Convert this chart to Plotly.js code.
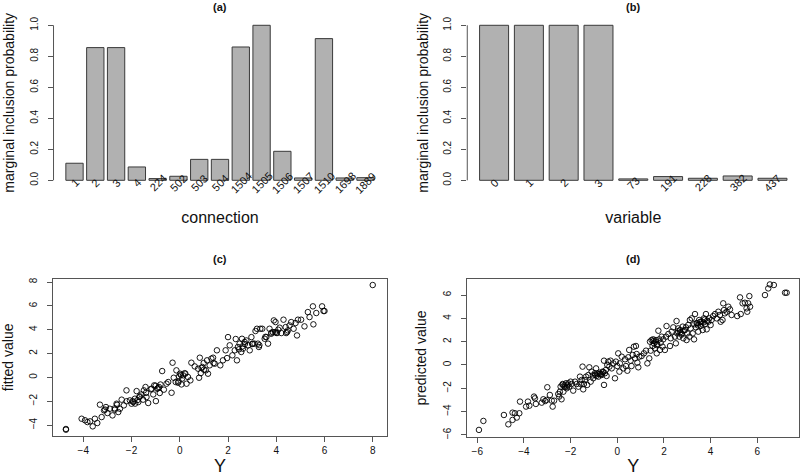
<!DOCTYPE html>
<html><head><meta charset="utf-8">
<script src="https://cdn.plot.ly/plotly-3.0.1.min.js"></script>
<style>html,body{margin:0;padding:0;background:#fff}#chart{width:800px;height:476px}</style>
</head><body><div id="chart"></div>
<script>
// Panel (a): connections
const connLabels = ["1","2","3","4","224","502","503","504","1504","1505","1506","1507","1510","1698","1889"];
const connProb   = [0.11,0.856,0.856,0.086,0.011,0.026,0.135,0.135,0.86,1.0,0.187,0.015,0.914,0.015,0.017];
// Panel (b): variables
const varLabels = ["0","1","2","3","73","191","228","382","437"];
const varProb   = [1.0,1.0,1.0,1.0,0.009,0.024,0.013,0.028,0.013];
// Panel (c): Y vs fitted value
const cY = [-4.72,-4.72,-4.07,-3.93,-3.83,-3.72,-3.61,-3.52,-3.42,-3.31,-3.24,-3.14,-3.06,-3.0,-2.9,-2.79,-2.69,-2.62,-2.55,-2.48,-2.41,-2.32,-2.21,-2.07,-2.0,-1.93,-1.86,-1.79,-1.72,-1.68,-1.59,-1.52,-1.49,-1.42,-1.38,-1.31,-1.17,-1.1,-1.06,-0.99,-0.94,-0.86,-0.83,-0.73,-0.66,-0.55,-0.48,-0.34,-0.3,-0.25,-0.17,-0.14,-0.07,-0.03,0.01,0.07,0.14,0.23,0.28,0.34,0.44,0.48,0.62,0.76,0.8,0.83,0.87,0.94,0.99,1.08,1.13,1.17,1.24,1.31,1.38,1.45,1.54,1.68,1.79,1.9,1.96,2.0,2.07,2.18,2.28,2.32,2.37,2.41,2.48,2.55,2.58,2.62,2.69,2.76,2.83,2.9,2.97,3.03,3.1,3.14,3.2,3.24,3.28,3.34,3.42,3.52,3.59,3.66,3.72,3.79,3.86,3.9,3.97,4.03,4.08,4.14,4.21,4.3,4.39,4.41,4.48,4.55,4.62,4.72,4.8,4.86,4.9,5.03,5.17,5.31,5.38,5.52,5.54,5.66,5.9,5.96,6.0,8.0,
  -1.95,-1.85,-1.75,-1.65,-1.0,-0.9,-1.2,0.05,0.1,-0.05,0.2,2.6,2.7,2.45,3.0,3.3,3.8,3.95,4.45,-2.7,-2.6,-3.1,-2.2,-1.4,-0.8,1.0,1.4,0.9,3.55,4.0];
const cFit = [-4.39,-4.33,-3.47,-3.6,-3.75,-3.69,-4.11,-3.47,-3.83,-2.29,-3.33,-2.77,-2.49,-2.99,-2.63,-3.19,-2.71,-2.21,-2.91,-2.63,-1.87,-2.35,-1.09,-1.93,-2.21,-2.07,-1.79,-1.15,-2.07,-1.65,-1.43,-1.87,-1.09,-0.81,-1.65,-2.15,-0.95,-1.43,-0.67,-1.99,-0.95,-0.81,-1.31,0.53,-1.03,-0.53,-0.39,-1.29,1.23,-0.03,-0.39,0.59,-0.45,0.08,0.31,-0.59,0.17,0.31,-0.53,0.03,-0.25,1.23,0.92,0.73,-0.03,1.65,0.36,0.87,1.2,0.59,1.43,0.31,1.01,1.57,1.65,1.15,2.27,1.01,1.43,2.27,1.62,3.38,2.69,1.85,2.27,3.22,1.43,2.55,2.83,2.13,3.24,2.41,2.97,3.1,2.69,2.27,3.38,2.83,2.83,3.89,4.08,2.83,2.55,4.08,4.08,3.24,3.38,2.83,4.08,3.66,3.8,4.78,4.64,3.72,4.0,4.17,3.72,4.84,4.22,3.72,3.94,4.36,4.64,4.08,4.56,3.52,4.84,4.84,4.28,5.48,5.06,5.96,4.45,5.4,5.96,5.57,5.57,7.75,
  -2.0,-2.2,-1.9,-1.6,-0.7,-0.9,-1.0,0.2,-0.1,-0.35,0.35,2.6,2.8,2.35,2.8,2.7,3.75,3.8,3.8,-2.6,-2.3,-2.7,-2.0,-1.3,-0.6,0.65,1.2,0.8,3.4,3.75];
// Panel (d): Y vs predicted value
const dY = [-5.93,-5.74,-4.86,-4.67,-4.49,-4.49,-4.39,-4.31,-4.2,-4.17,-3.91,-3.83,-3.77,-3.57,-3.53,-3.49,-3.24,-3.17,-3.09,-3.03,-3.0,-2.89,-2.81,-2.77,-2.71,-2.53,-2.49,-2.46,-2.43,-2.39,-2.34,-2.31,-2.27,-2.2,-2.17,-2.13,-2.1,-2.06,-2.0,-1.96,-1.89,-1.81,-1.74,-1.67,-1.6,-1.57,-1.53,-1.49,-1.46,-1.43,-1.39,-1.34,-1.29,-1.24,-1.2,-1.14,-1.1,-1.03,-0.96,-0.91,-0.89,-0.81,-0.77,-0.74,-0.67,-0.63,-0.57,-0.57,-0.53,-0.49,-0.46,-0.43,-0.39,-0.34,-0.29,-0.24,-0.17,-0.1,-0.06,0.0,0.04,0.09,0.11,0.19,0.26,0.33,0.37,0.43,0.47,0.51,0.57,0.61,0.66,0.71,0.76,0.8,0.83,0.86,0.9,0.94,1.04,1.14,1.23,1.29,1.37,1.4,1.43,1.47,1.51,1.54,1.57,1.61,1.66,1.69,1.71,1.76,1.8,1.83,1.86,1.9,1.94,1.97,2.04,2.09,2.11,2.19,2.26,2.29,2.33,2.4,2.47,2.51,2.54,2.57,2.61,2.66,2.69,2.76,2.8,2.83,2.9,2.94,2.97,3.0,3.04,3.09,3.11,3.14,3.19,3.23,3.29,3.33,3.37,3.43,3.47,3.51,3.57,3.61,3.66,3.71,3.76,3.8,3.83,3.9,3.94,4.0,4.04,4.11,4.19,4.26,4.33,4.4,4.43,4.51,4.54,4.57,4.61,4.69,4.76,4.83,4.9,5.14,5.26,5.29,5.37,5.47,5.54,5.57,5.61,5.66,5.69,6.33,6.47,6.54,6.71,7.19,7.26,
  3.4,3.55,3.7,3.85,3.3,3.6,3.75,3.45,2.7,2.85,2.6,2.75,-0.85,-0.7,-0.95,-1.05,-0.6,-2.25,-2.35,-2.15,1.65,1.7,1.55];
const dPred = [-5.57,-4.8,-4.29,-5.09,-4.09,-4.71,-4.14,-4.51,-4.14,-3.14,-3.57,-3.14,-3.49,-2.71,-2.86,-3.34,-3.23,-2.94,-3.09,-3.0,-1.91,-2.57,-3.06,-3.57,-3.06,-2.49,-2.71,-2.29,-1.86,-2.94,-1.63,-2.29,-1.77,-1.57,-2.0,-1.71,-1.57,-1.86,-1.43,-1.63,-2.2,-1.43,-1.63,-1.86,-1.0,-1.63,-1.29,-0.14,-2.09,-1.63,-1.29,-1.0,-1.71,-0.86,-0.2,-1.43,-0.57,-1.14,-0.71,-0.29,-0.94,-1.0,-0.66,-0.77,-0.86,-0.57,-1.71,0.37,-0.71,-0.43,-0.94,0.0,0.29,-0.14,0.37,-0.29,0.14,-1.14,0.29,-0.09,1.0,-0.57,0.14,0.71,-0.29,0.49,-0.09,-0.49,0.66,1.29,0.37,-0.09,0.86,1.57,0.57,1.63,0.94,0.2,-0.2,0.71,0.77,1.0,1.23,0.14,0.57,2.0,1.23,2.14,1.63,2.2,1.86,1.43,2.14,1.0,1.8,2.94,2.2,1.29,1.91,2.43,1.57,2.2,1.29,2.43,3.34,2.66,1.63,2.29,2.86,3.23,2.43,1.86,3.77,2.71,3.14,2.43,3.0,2.71,3.29,2.29,3.0,3.23,2.14,2.71,3.43,2.43,3.86,3.14,4.0,2.71,2.2,4.37,3.23,3.57,2.86,3.86,3.34,3.71,3.0,4.0,3.51,4.37,3.06,3.71,4.0,3.43,3.86,4.2,4.37,4.0,4.57,4.29,3.71,3.86,5.29,4.71,4.43,4.57,5.0,4.77,4.29,4.2,5.8,4.37,5.29,5.34,4.86,4.57,5.29,5.91,5.0,6.0,6.57,6.91,6.86,6.2,6.2,
  3.6,3.7,3.65,3.8,3.5,3.55,3.9,3.4,2.8,2.95,2.9,2.6,-0.75,-0.8,-0.85,-0.9,-0.6,-1.9,-1.7,-1.85,2.0,1.7,2.05];

const FONT = "Liberation Sans, Arial, Helvetica, sans-serif";
const TXT = "#111";
const LINE = "#555";

const barStyle = {color:"#b1b1b1", line:{color:"#3a3a3a", width:1}};
const traces = [
  {type:"bar", x:connLabels, y:connProb, xaxis:"x", yaxis:"y", marker:barStyle, hoverinfo:"x+y"},
  {type:"bar", x:varLabels, y:varProb, xaxis:"x2", yaxis:"y2", marker:barStyle, hoverinfo:"x+y"},
  {type:"scatter", mode:"markers", x:cY, y:cFit, xaxis:"x3", yaxis:"y3",
   marker:{symbol:"circle-open", size:5.5, color:"#000", line:{width:0.9}}},
  {type:"scatter", mode:"markers", x:dY, y:dPred, xaxis:"x4", yaxis:"y4",
   marker:{symbol:"circle-open", size:5.5, color:"#000", line:{width:0.9}}}
];

const tickFont = {family:FONT, size:10, color:TXT};
const titleFontBig = {family:FONT, size:16, color:TXT};
const xTitleFont = {family:FONT, size:18, color:TXT};
const yTitleFont = {family:FONT, size:14, color:TXT};

function barY(anchor, domain){
  return {domain:domain, anchor:anchor, range:[-0.04,1.04], tickvals:[0,0.2,0.4,0.6,0.8,1.0],
    ticktext:["0.0","0.2","0.4","0.6","0.8","1.0"], ticks:"outside", ticklen:5, tickcolor:LINE,
    tickangle:-90, ticklabelstandoff:6, tickfont:tickFont, showgrid:false, zeroline:false, showline:false,
    title:{text:"marginal inclusion probability", font:yTitleFont, standoff:10}};
}
function scatX(anchor, domain, range, vals){
  return {domain:domain, anchor:anchor, range:range, tickvals:vals, ticks:"outside", ticklen:5,
    tickcolor:LINE, tickfont:tickFont, showgrid:false, zeroline:false, showline:true, mirror:true,
    linecolor:LINE, linewidth:1, title:{text:"Y", font:xTitleFont, standoff:13}};
}
function scatY(anchor, domain, range, vals, title){
  return {domain:domain, anchor:anchor, range:range, tickvals:vals, ticks:"outside", ticklen:5,
    tickcolor:LINE, tickangle:-90, ticklabelstandoff:6, tickfont:tickFont, showgrid:false, zeroline:false, showline:true,
    mirror:true, linecolor:LINE, linewidth:1, title:{text:title, font:yTitleFont, standoff:12}};
}

const annotations = [];
connLabels.forEach((t,i)=>annotations.push({xref:"x", yref:"y", x:i, y:-0.016, text:t, textangle:-45,
  showarrow:false, font:{family:FONT, size:11, color:TXT}}));
varLabels.forEach((t,i)=>annotations.push({xref:"x2", yref:"y2", x:i, y:-0.016, text:t, textangle:-45,
  showarrow:false, font:{family:FONT, size:11, color:TXT}}));
[["(a)",0.275,1.0],["(b)",0.7916,1.0],["(c)",0.275,0.472]].forEach(p=>0);
[["(a)",0.275,1.0],["(b)",0.7916,1.0],["(c)",0.275,0.4705],["(d)",0.7916,0.4705]].forEach(p=>
  annotations.push({xref:"paper", yref:"paper", x:p[1], y:p[2], text:"<b>"+p[0]+"</b>", showarrow:false,
    xanchor:"center", yanchor:"top", borderpad:0, font:{family:FONT, size:11, color:TXT}}));

const layout = {
  width:800, height:476, margin:{l:0,r:0,t:0,b:0}, paper_bgcolor:"#fff", plot_bgcolor:"#fff",
  showlegend:false, bargap:1/6, font:{family:FONT, color:TXT},
  xaxis:{domain:[0.0669,0.4831], anchor:"y", type:"category", range:[-1.01,15.01], showticklabels:false,
    ticks:"", showgrid:false, zeroline:false, showline:false,
    title:{text:"connection", font:titleFontBig, standoff:25}},
  yaxis:barY("x",[0.6082,0.9599]),
  xaxis2:{domain:[0.5841,0.9991], anchor:"y2", type:"category", range:[-0.77,8.77], showticklabels:false,
    ticks:"", showgrid:false, zeroline:false, showline:false,
    title:{text:"variable", font:titleFontBig, standoff:25}},
  yaxis2:barY("x2",[0.6082,0.9599]),
  xaxis3:scatX("y3",[0.0666,0.4834],[-5.245,8.58],[-4,-2,0,2,4,6,8]),
  yaxis3:scatY("x3",[0.0840,0.4145],[-4.92,8.28],[-4,-2,0,2,4,6,8],"fitted value"),
  xaxis4:scatX("y4",[0.5841,0.9991],[-6.43,7.8],[-6,-4,-2,0,2,4,6]),
  yaxis4:scatY("x4",[0.0826,0.4132],[-6.15,7.35],[-6,-4,-2,0,2,4,6],"predicted value"),
  annotations:annotations,
  shapes:[
    {type:"line", xref:"paper", yref:"y", x0:0.0669, x1:0.0669, y0:0, y1:1, line:{color:LINE, width:1}},
    {type:"line", xref:"paper", yref:"y2", x0:0.5841, x1:0.5841, y0:0, y1:1, line:{color:LINE, width:1}}
  ]
};
Plotly.newPlot("chart", traces, layout, {staticPlot:true, displayModeBar:false});
</script></body></html>
